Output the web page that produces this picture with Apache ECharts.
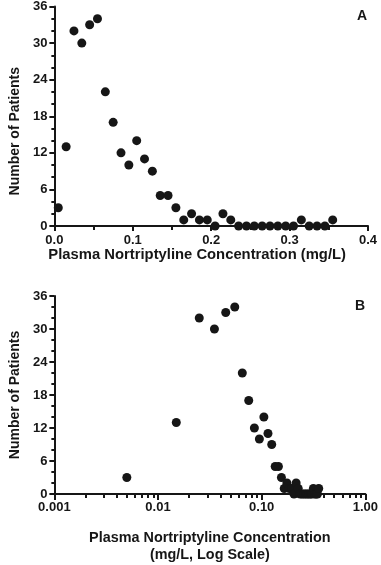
<!DOCTYPE html>
<html>
<head>
<meta charset="utf-8">
<script src="https://cdn.jsdelivr.net/npm/echarts@6/dist/echarts.min.js"></script>
<style>
html,body{margin:0;padding:0;background:#fff;}
#chart{width:381px;height:565px;}
</style>
</head>
<body>
<div id="chart"></div>
<script>
// Concentration bin centres (mg/L)
var concentrations = [0.005,0.015,0.025,0.035,0.045,0.055,0.065,0.075,0.085,0.095,
  0.105,0.115,0.125,0.135,0.145,0.155,0.165,0.175,0.185,0.195,
  0.205,0.215,0.225,0.235,0.245,0.255,0.265,0.275,0.285,0.295,
  0.305,0.315,0.325,0.335,0.345,0.355];
// Number of patients
var patients = [3,13,32,30,33,34,22,17,12,10,
  14,11,9,5,5,3,1,2,1,1,
  0,2,1,0,0,0,0,0,0,0,
  0,1,0,0,0,1];
var linearTickLabels = ['0.0','0.1','0.2','0.3','0.4'];
var logTickLabels = ['0.001','0.01','0.10','1.00'];
var logMinorTicks = [0.002,0.003,0.004,0.005,0.006,0.007,0.008,0.009,
  0.02,0.03,0.04,0.05,0.06,0.07,0.08,0.09,
  0.2,0.3,0.4,0.5,0.6,0.7,0.8,0.9];

var pts = concentrations.map(function(c,i){return [c, patients[i]];});
var FONT = 'Liberation Sans, Arial, sans-serif';
var INK = '#161616';
var labelStyle = {color: INK, fontFamily: FONT, fontWeight: 'bold', fontSize: 13};
var nameStyle = {color: INK, fontFamily: FONT, fontWeight: 'bold', fontSize: 14};

function yAxis(gridIndex, pad){
  return {
    type:'value', gridIndex:gridIndex, min:0, max:36, interval:6,
    name:'Number of Patients', nameLocation:'middle', nameGap:27,
    nameTextStyle:Object.assign({padding:pad}, nameStyle),
    axisLine:{show:true, lineStyle:{color:INK, width:2}},
    axisTick:{show:true, length:5, lineStyle:{color:INK, width:2}},
    minorTick:{show:true, splitNumber:3, length:3, lineStyle:{color:INK, width:2}},
    axisLabel:Object.assign({margin:7}, labelStyle),
    splitLine:{show:false}
  };
}

var chart = echarts.init(document.getElementById('chart'), null, {renderer:'canvas'});
chart.setOption({
  animation:false,
  backgroundColor:'#fff',
  grid:[
    {left:42, top:5, width:326, height:221},
    {left:42, top:296, width:324, height:200}
  ],
  xAxis:[
    {
      type:'value', gridIndex:0, min:0, max:0.4, interval:0.1,
      name:'Plasma Nortriptyline Concentration (mg/L)', nameLocation:'middle', nameGap:20,
      nameTextStyle:Object.assign({}, nameStyle, {fontSize:14.8, padding:[0,28,0,0]}),
      axisLine:{show:true, onZero:false, lineStyle:{color:INK, width:2}},
      axisTick:{show:true, length:5, lineStyle:{color:INK, width:2}},
      minorTick:{show:true, splitNumber:2, length:4, lineStyle:{color:INK, width:2}},
      axisLabel:Object.assign({margin:8, formatter:function(v,i){return linearTickLabels[i];}}, labelStyle),
      splitLine:{show:false}
    },
    {
      type:'log', logBase:10, gridIndex:1, min:0.001, max:1,
      name:'Plasma Nortriptyline Concentration\n(mg/L, Log Scale)', nameLocation:'middle', nameGap:36,
      nameTextStyle:Object.assign({lineHeight:17}, nameStyle, {fontSize:14.4}),
      axisLine:{show:true, onZero:false, lineStyle:{color:INK, width:2}},
      axisTick:{show:true, length:6, lineStyle:{color:INK, width:2}},
      axisLabel:Object.assign({margin:7, formatter:function(v,i){return logTickLabels[i];}}, labelStyle),
      splitLine:{show:false}
    },
    {
      type:'log', logBase:10, gridIndex:1, min:0.001, max:1, position:'bottom',
      axisLine:{show:false},
      axisTick:{show:true, length:4, customValues:logMinorTicks, lineStyle:{color:INK, width:2}},
      axisLabel:{show:false},
      splitLine:{show:false}
    }
  ],
  yAxis:[yAxis(0, [0,30,0,0]), yAxis(1, 0)],
  graphic:[
    {type:'text', left:357, top:9, style:{text:'A', fill:INK, font:'bold 14px Liberation Sans, Arial, sans-serif'}},
    {type:'text', left:355, top:299, style:{text:'B', fill:INK, font:'bold 14px Liberation Sans, Arial, sans-serif'}}
  ],
  series:[
    {type:'scatter', xAxisIndex:0, yAxisIndex:0, data:pts, symbolSize:9, itemStyle:{color:INK, opacity:1}, z:5},
    {type:'scatter', xAxisIndex:1, yAxisIndex:1, data:pts, symbolSize:9, itemStyle:{color:INK, opacity:1}, z:5}
  ]
});
</script>
</body>
</html>
